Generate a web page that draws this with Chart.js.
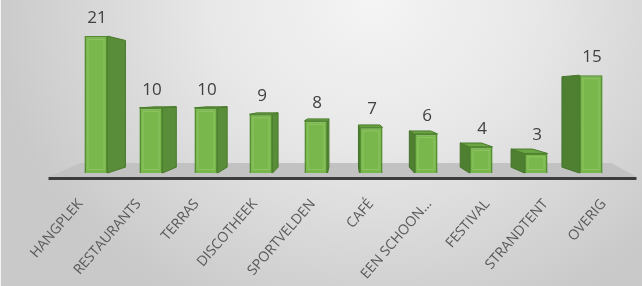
<!DOCTYPE html>
<html>
<head>
<meta charset="utf-8">
<script src="https://cdn.jsdelivr.net/npm/chart.js@4.4.1/dist/chart.umd.min.js"></script>
<style>
  html, body {
    margin: 0;
    padding: 0;
    width: 642px;
    height: 286px;
    overflow: hidden;
    background: radial-gradient(ellipse 60% 120% at 58% 0%, #f4f4f4 0%, #e8e8e8 42%, #d6d6d6 75%, #c9c9c9 100%);
  }
  #chartBox {
    position: absolute;
    left: 0;
    top: 0;
    width: 642px;
    height: 286px;
    border-left: 1px solid #f4f4f4;
    box-sizing: border-box;
  }
</style>
</head>
<body>
<div id="chartBox">
  <canvas id="chart" width="641" height="286"></canvas>
</div>
<script>
const categories = ['HANGPLEK', 'RESTAURANTS', 'TERRAS', 'DISCOTHEEK', 'SPORTVELDEN',
  'CAFÉ', 'EEN SCHOON…', 'FESTIVAL', 'STRANDTENT', 'OVERIG'];
const counts = [21, 10, 10, 9, 8, 7, 6, 4, 3, 15];
const yMin = 0;
const yMax = 24;

// perspective settings for the fake 3D look
const depth = 0.075;
const vanishX = 0.505; // fraction of chart width
const vanishY = 95;
const labelSpread = 0.057;

function project(p, v) {
  return { x: v.x + (p.x - v.x) * (1 - depth), y: v.y + (p.y - v.y) * (1 - depth) };
}

function poly(ctx, pts, fill, stroke) {
  ctx.beginPath();
  ctx.moveTo(pts[0].x, pts[0].y);
  for (let i = 1; i < pts.length; i++) ctx.lineTo(pts[i].x, pts[i].y);
  ctx.closePath();
  ctx.fillStyle = fill;
  ctx.fill();
  if (stroke) {
    ctx.strokeStyle = stroke;
    ctx.lineWidth = 1;
    ctx.stroke();
  }
}

const bars3d = {
  id: 'bars3d',
  beforeDraw(chart) {
    // spread the axis labels a little, like the perspective of the original
    const area = chart.chartArea;
    const vx = area.left + (area.right - area.left) * vanishX;
    const items = chart.scales.x.getLabelItems(area) || [];
    items.forEach((it) => {
      const tr = (it.options && it.options.translation) || it.translation;
      if (!tr || it._shifted) return;
      tr[0] += (tr[0] - vx) * labelSpread - 1;
      it._shifted = true;
    });
  },
  beforeDatasetsDraw(chart) {
    const ctx = chart.ctx;
    const area = chart.chartArea;
    const v = { x: area.left + (area.right - area.left) * vanishX, y: vanishY };

    // floor
    ctx.save();
    const fy = area.bottom + 4;
    poly(ctx, [
      { x: area.left - 20, y: fy },
      { x: area.right + 18, y: fy },
      { x: area.right - 7, y: area.bottom - 10 },
      { x: area.left + 12, y: area.bottom - 10 }
    ], '#c2c2c2');
    ctx.fillStyle = '#3c3c3c';
    ctx.fillRect(area.left - 20, fy, area.right - area.left + 38, 3);

    // side and top faces
    const meta = chart.getDatasetMeta(0);
    meta.data.forEach((bar) => {
      const p = bar.getProps(['x', 'y', 'base', 'width'], true);
      const L = p.x - p.width / 2;
      const R = p.x + p.width / 2;
      const T = p.y;
      const B = p.base;
      if (p.x < v.x) {
        const a = { x: R, y: T }, b = { x: R, y: B };
        poly(ctx, [a, b, project(b, v), project(a, v)], '#5a8d3a', '#4a7a2c');
      } else {
        const a = { x: L, y: T }, b = { x: L, y: B };
        poly(ctx, [a, b, project(b, v), project(a, v)], '#4f8032', '#44732a');
      }
      if (T > v.y) {
        const a = { x: L, y: T }, b = { x: R, y: T };
        poly(ctx, [a, b, project(b, v), project(a, v)], '#6ca544', '#4a7a2c');
      }
    });
    ctx.restore();
  },
  afterDatasetsDraw(chart) {
    const ctx = chart.ctx;
    const meta = chart.getDatasetMeta(0);
    ctx.save();
    // inner highlight line on the front faces
    meta.data.forEach((bar) => {
      const p = bar.getProps(['x', 'y', 'base', 'width'], true);
      ctx.strokeStyle = 'rgba(160,210,120,0.55)';
      ctx.lineWidth = 1;
      ctx.strokeRect(p.x - p.width / 2 + 3.5, p.y + 3.5, p.width - 7, p.base - p.y - 7);
    });
    // value labels
    ctx.font = '17px "Open Sans", sans-serif';
    ctx.fillStyle = '#404040';
    ctx.textAlign = 'center';
    ctx.textBaseline = 'alphabetic';
    meta.data.forEach((bar, i) => {
      ctx.fillText(String(counts[i]), bar.x + 1, bar.y - 13);
    });
    ctx.restore();
  }
};

new Chart(document.getElementById('chart'), {
  type: 'bar',
  data: {
    labels: categories,
    datasets: [{
      data: counts,
      backgroundColor: '#79b64b',
      borderColor: '#4f8a2c',
      borderWidth: 1.5,
      barPercentage: 0.42,
      categoryPercentage: 1
    }]
  },
  options: {
    responsive: false,
    animation: false,
    layout: { padding: { left: 67.5, right: 23.5, top: 16.5, bottom: 0 } },
    plugins: {
      legend: { display: false },
      tooltip: { enabled: false }
    },
    scales: {
      y: {
        display: false,
        min: yMin,
        max: yMax
      },
      x: {
        grid: { display: false },
        border: { display: false },
        ticks: {
          autoSkip: false,
          minRotation: 49,
          maxRotation: 49,
          padding: 15,
          color: '#595959',
          font: { family: '"Open Sans", sans-serif', size: 14 }
        },
        afterFit(scale) { scale.height = 113; }
      }
    }
  },
  plugins: [bars3d]
});
</script>
</body>
</html>
